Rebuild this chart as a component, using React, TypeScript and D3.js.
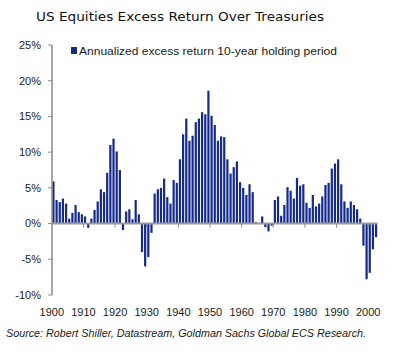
import React from "react";
import * as d3 from "d3";

const years: number[] = d3.range(1900, 2003);
const excessReturn: number[] = [
  5.9, 3.3, 3.0, 3.5, 2.8, 0.7, 1.5, 2.6, 1.6, 1.3,
  1.0, -0.6, 0.7, 1.9, 3.1, 4.8, 4.4, 7.1, 11.0, 11.9,
  10.1, 7.5, -0.9, 1.7, 2.0, 0.6, 3.3, 1.3, -4.0, -6.0,
  -4.7, -1.3, 4.2, 4.8, 5.0, 6.3, 3.7, 2.8, 6.1, 5.7,
  9.0, 12.5, 14.7, 11.6, 12.3, 14.2, 14.7, 15.6, 15.3, 18.6,
  15.1, 13.8, 11.6, 12.2, 12.1, 9.0, 7.0, 7.9, 8.7, 5.8,
  5.0, 4.0, 5.5, 4.4, 0.2, 0.05, 1.0, -0.5, -1.1, -0.3,
  3.3, 3.8, 1.1, 2.6, 5.1, 4.6, 3.5, 6.4, 5.3, 5.5,
  2.9, 2.2, 4.0, 2.4, 2.8, 3.8, 5.4, 5.7, 7.7, 8.4,
  9.0, 5.5, 3.1, 2.2, 3.1, 2.6, 2.0, 0.7, -3.1, -7.8,
  -6.9, -3.6, -1.9,
];
const yTicks: number[] = [25, 20, 15, 10, 5, 0, -5, -10];
const xTickYears: number[] = [1900, 1910, 1920, 1930, 1940, 1950, 1960, 1970, 1980, 1990, 2000];

const title = "US Equities Excess Return Over Treasuries";
const legendLabel = "Annualized excess return 10-year holding period";
const source = "Source: Robert Shiller, Datastream, Goldman Sachs Global ECS Research.";

export default function App() {
  const W = 400, H = 356;
  const left = 52, right = 377.5;
  const x = d3.scaleBand<number>().domain(years).range([left, right]).paddingInner(0.3).paddingOuter(0.1);
  const y = d3.scaleLinear().domain([-10, 25]).range([295, 45]);
  const step = x.step();
  const textColor = "#1a1a1a";
  const barColor = "#142a8c";
  const font = "'Liberation Sans', Arial, sans-serif";

  return (
    <svg width={W} height={H} style={{ position: "absolute", left: 0, top: 0, background: "#fff" }}>
      <rect x={0} y={0} width={W} height={H} fill="#fff" />
      <text x={36} y={21} fontFamily="'DejaVu Sans', Verdana, sans-serif" fontSize={12.5} fill="#111"
        textLength={288} lengthAdjust="spacingAndGlyphs">{title}</text>

      {/* legend */}
      <rect x={71} y={47} width={6} height={7} fill={barColor} />
      <text x={79} y={55} fontFamily={font} fontSize={11} fill={textColor}
        textLength={258} lengthAdjust="spacingAndGlyphs">{legendLabel}</text>

      {/* bars */}
      {years.map((yr, i) => {
        const v = excessReturn[i];
        const y0 = y(0), y1 = y(v);
        return (
          <rect key={yr} x={x(yr)} y={Math.min(y0, y1)} width={x.bandwidth()}
            height={Math.abs(y1 - y0)} fill={barColor} />
        );
      })}

      {/* y axis */}
      <line x1={left} x2={left} y1={y(25)} y2={y(-10)} stroke="#8a8a8a" strokeWidth={1.5} />
      {yTicks.map((t) => (
        <g key={t}>
          <line x1={left - 4} x2={left} y1={y(t)} y2={y(t)} stroke="#8a8a8a" strokeWidth={1} />
          <text x={41} y={y(t)} dy="0.35em" textAnchor="end" fontFamily={font} fontSize={11} fill={textColor}>
            {t}%
          </text>
        </g>
      ))}

      {/* zero line */}
      <line x1={left} x2={right} y1={y(0)} y2={y(0)} stroke="#9a9a9a" strokeWidth={2} />
      {xTickYears.map((yr) => {
        const xp = (x(yr) as number) - step * 0.15;
        return (
          <g key={yr}>
            {yr !== 1900 && <line x1={xp} x2={xp} y1={y(0)} y2={y(0) + 4} stroke="#8a8a8a" strokeWidth={1} />}
            <text x={xp} y={316} textAnchor="middle" fontFamily={font} fontSize={11} fill={textColor}>
              {yr}
            </text>
          </g>
        );
      })}

      <text x={6} y={337} fontFamily={font} fontSize={11.5} fontStyle="italic" fill={textColor}
        textLength={360} lengthAdjust="spacingAndGlyphs">{source}</text>
    </svg>
  );
}
